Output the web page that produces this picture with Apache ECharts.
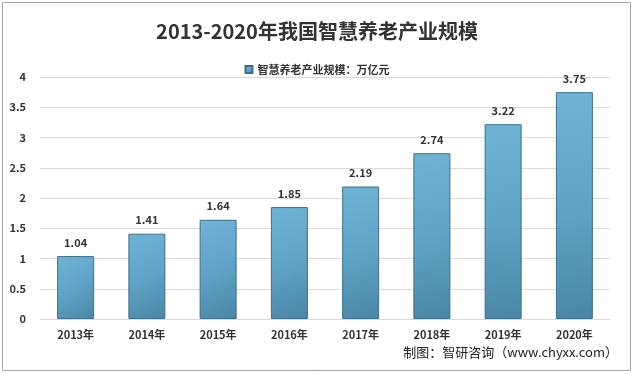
<!DOCTYPE html>
<html><head><meta charset="utf-8">
<script src="https://cdn.jsdelivr.net/npm/echarts@6/dist/echarts.min.js"></script>
<style>html,body{margin:0;padding:0;background:#fff}#c{width:634px;height:374px}</style>
</head><body><div id="c"></div>
<script>
const categories = ['2013年','2014年','2015年','2016年','2017年','2018年','2019年','2020年'];
const values = [1.04, 1.41, 1.64, 1.85, 2.19, 2.74, 3.22, 3.75];
const seriesName = '智慧养老产业规模：万亿元';
const titleText = '2013-2020年我国智慧养老产业规模';
const sourceText = '制图：智研咨询（www.chyxx.com）';

const chart = echarts.init(document.getElementById('c'));
const font = '"Microsoft YaHei","Noto Sans CJK SC",sans-serif';
chart.setOption({
  animation: false,
  backgroundColor: '#fff',
  graphic: [
    {type:'rect', shape:{x:2.5,y:2.5,width:628,height:368}, style:{fill:'none', stroke:'#a6a6a6', lineWidth:1}},
    {type:'text', right: 16, top: 346, style:{text: sourceText, font: '13px ' + font, fill:'#222'}}
  ],
  title: {text: titleText, left: 'center', top: 16,
    textStyle:{fontSize:20, fontWeight:'bold', color:'#333', fontFamily: font}},
  legend: {top: 59, left: 'center', itemWidth: 7, itemHeight: 7, itemGap: 4,
    textStyle:{fontSize:11, fontWeight:'bold', color:'#333', fontFamily: font},
    data:[{name: seriesName, icon:'rect'}]},
  grid: {left: 40, right: 24, top: 77, bottom: 55, containLabel: false},
  xAxis: {type:'category', data: categories,
    axisLine:{show:true, lineStyle:{color:'#d9d9d9'}}, axisTick:{show:false},
    axisLabel:{fontSize:11, fontWeight:'bold', color:'#333', fontFamily: font, margin: 10}},
  yAxis: {type:'value', min:0, max:4, interval:0.5,
    axisLine:{show:false}, axisTick:{show:false},
    splitLine:{lineStyle:{color:'#d9d9d9'}},
    axisLabel:{fontSize:11, fontWeight:'bold', color:'#333', fontFamily: font, margin: 14}},
  series: [{
    name: seriesName, type:'bar', data: values, barWidth: 37,
    itemStyle:{
      color: new echarts.graphic.LinearGradient(0,0,1,1,[
        {offset:0, color:'#6fb3d5'},{offset:0.5, color:'#5fa4c7'},{offset:1, color:'#4a86a6'}]),
      borderColor:'#3f6f8a', borderWidth:1
    },
    label:{show:true, position:'top', distance:8, fontSize:11, fontWeight:'bold', color:'#333', fontFamily: font}
  }]
});
</script></body></html>
